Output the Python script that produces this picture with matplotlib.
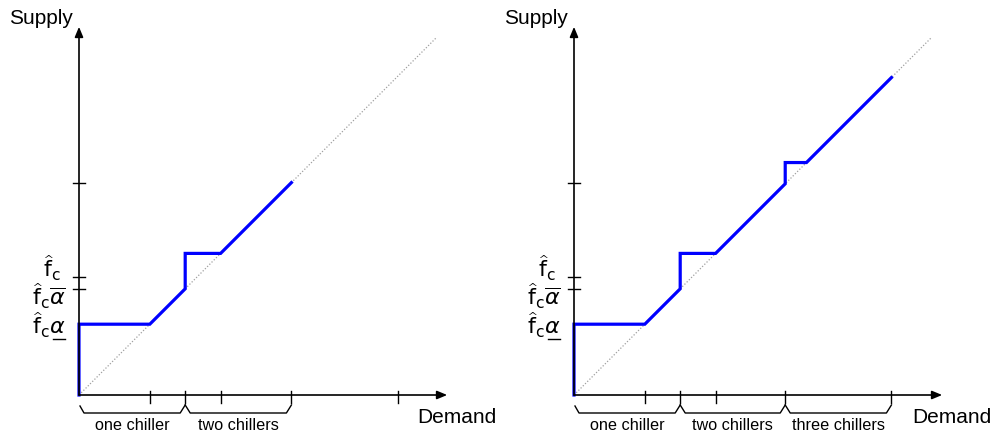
import matplotlib
matplotlib.use('Agg')
import matplotlib.pyplot as plt

plt.rcParams['font.family'] = ['Liberation Sans', 'DejaVu Sans']
plt.rcParams['mathtext.fontset'] = 'dejavusans'

# values in units of one chiller capacity f_c
# left: one or two chillers
left_demand = [0, 0, 0.6, 0.9, 0.9, 1.2, 1.8]
left_supply = [0, 0.6, 0.6, 0.9, 1.2, 1.2, 1.8]
left_xticks = [0.6, 0.9, 1.2, 1.8, 2.7]
left_groups = [(0, 0.9, 'one chiller'), (0.9, 1.8, 'two chillers')]

# right: up to three chillers
right_demand = [0, 0, 0.6, 0.9, 0.9, 1.2, 1.79, 1.79, 1.97, 2.69]
right_supply = [0, 0.6, 0.6, 0.9, 1.2, 1.2, 1.79, 1.97, 1.97, 2.69]
right_xticks = [0.6, 0.9, 1.2, 1.79, 2.69]
right_groups = [(0, 0.9, 'one chiller'), (0.9, 1.79, 'two chillers'),
                (1.79, 2.69, 'three chillers')]

yticks = [0.9, 1.0, 1.8]
ylabels = [r'$\widehat{\mathrm{f}}_{\mathrm{c}}$',
           r'$\widehat{\mathrm{f}}_{\mathrm{c}}\overline{\alpha}$',
           r'$\widehat{\mathrm{f}}_{\mathrm{c}}\alpha$']
ylabel_pos = [(-18, 1.0), (-13, 0.763), (-13, 0.517)]

S = 118.0  # pixels per unit
W, H = 995, 434
fig = plt.figure(figsize=(W / 100, H / 100), dpi=100)


def panel(rect, ox, demand, supply, xticks, groups):
    ax = fig.add_axes(rect)
    ax.set_xlim(-ox / S, (rect[2] * W - ox) / S)
    ax.set_ylim(-(H - 395) / S, 395 / S)
    ax.axis('off')
    L = 3.12
    arw = dict(arrowstyle='-|>,head_length=0.6,head_width=0.25', color='black',
               lw=1.2, shrinkA=0, shrinkB=0)
    ax.annotate('', xy=(L, 0), xytext=(0, 0), arrowprops=arw)
    ax.annotate('', xy=(0, L), xytext=(0, 0), arrowprops=arw)
    ax.plot([0, 3.03], [0, 3.03], ls=(0, (1, 1.5)), color='#a0a0a0', lw=0.9)
    ax.plot(demand, supply, color='#0000ff', lw=2.3, solid_joinstyle='miter')
    for t in xticks:
        ax.plot([t, t], [4 / S, -8 / S], color='black', lw=1)
    for t in yticks:
        ax.plot([-6 / S, 6 / S], [t, t], color='black', lw=1)
    for lab, (xp, yp) in zip(ylabels, ylabel_pos):
        ax.text(xp / S, yp, lab, ha='right', va='baseline', fontsize=16)
    # underline for the lower alpha
    ax.plot([-26 / S, -14 / S], [0.475, 0.475], color='black', lw=1)
    # braces
    top, bot, d = -11 / S, -18 / S, 5 / S
    for a, b, txt in groups:
        ax.plot([a + (1 / S if a == 0 else 0), a + d, b - d, b],
                [top if a == 0 else top + 1 / S, bot, bot, top + 1 / S],
                color='black', lw=1)
        ax.text((a + b) / 2, -30 / S, txt, ha='center', va='center', fontsize=11.7)
    ax.text(3.2, -0.19, 'Demand', ha='center', va='center', fontsize=15)
    ax.text(-0.32, 3.19, 'Supply', ha='center', va='center', fontsize=15)


panel([0, 0, 0.5, 1], 79, left_demand, left_supply, left_xticks, left_groups)
panel([0.5, 0, 0.5, 1], 574 - 497.5, right_demand, right_supply, right_xticks, right_groups)

fig.savefig('out.png', dpi=100)
